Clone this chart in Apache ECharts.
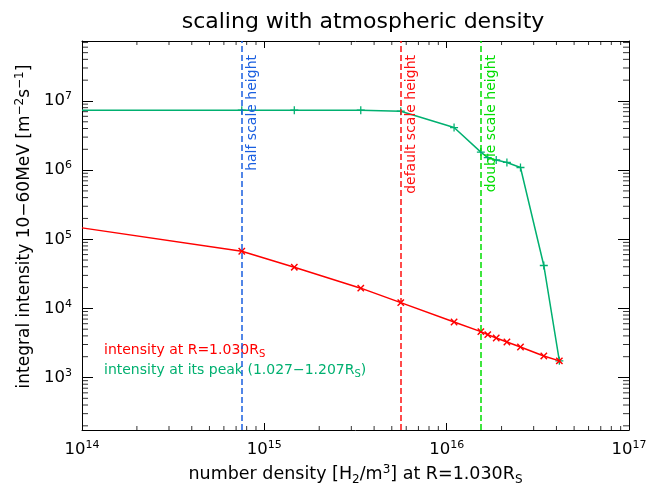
<!DOCTYPE html>
<html><head><meta charset="utf-8">
<script src="https://cdn.jsdelivr.net/npm/echarts@6/dist/echarts.min.js"></script>
<style>html,body{margin:0;padding:0;background:#fff}#c{width:650px;height:495px}</style>
</head><body><div id="c"></div>
<script>
// ---- data ----
const density = [1.0e14, 7.52e14, 1.46e15, 3.38e15, 5.60e15, 1.098e16, 1.54e16, 1.68e16, 1.87e16, 2.14e16, 2.54e16, 3.41e16, 4.15e16];
const intensityAtR = [1.46e5, 6.71e4, 3.94e4, 1.96e4, 1.21e4, 6.34e3, 4.61e3, 4.17e3, 3.73e3, 3.26e3, 2.76e3, 2.05e3, 1.74e3];
const intensityPeak = [7.37e6, 7.37e6, 7.37e6, 7.37e6, 7.12e6, 4.13e6, 1.82e6, 1.51e6, 1.40e6, 1.29e6, 1.09e6, 4.17e4, 1.74e3];
const hasMarker = [false, true, true, true, true, true, true, true, true, true, true, true, true];
const scaleNames = ['half scale height', 'default scale height', 'double scale height'];
const scaleDensity = [7.52e14, 5.60e15, 1.54e16];
const xRange = [1e14, 1e17];
const yRange = [174, 7.37e7];
const xTickExps = [14, 15, 16, 17];
const yTickExps = [3, 4, 5, 6, 7];

// ---- styling ----
const FONT = 'DejaVu Sans';
const RED = '#ff0000', GREEN = '#00b070';
const scaleColors = ['#1a5fe0', '#ff1010', '#00dd00'];

// IDL-style minor tick values (2..9 x 10^n) inside the axis ranges
const minorX = [], minorY = [];
for (let e = 13; e <= 17; e++) for (let m = 2; m <= 9; m++) {
  const v = m * Math.pow(10, e);
  if (v > xRange[0] && v < xRange[1]) minorX.push(v);
}
for (let e = 2; e <= 7; e++) for (let m = 2; m <= 9; m++) {
  const v = m * Math.pow(10, e);
  if (v > yRange[0] && v < yRange[1]) minorY.push(v);
}

const supRich = {
  b: { fontSize: 16.5, fontFamily: FONT, color: '#000', lineHeight: 20 },
  s: { fontSize: 11, fontFamily: FONT, color: '#000', verticalAlign: 'top', lineHeight: 12 }
};
function expLabel(v) {
  const l = Math.log10(v);
  const e = Math.round(l);
  if (Math.abs(l - e) > 1e-6) return '';
  const list = xTickExps.concat(yTickExps);
  if (list.indexOf(e) < 0) return '';
  return '{b|10}{s|' + e + '}';
}
const PLUS = 'path://M4.2,0H5.8V4.2H10V5.8H5.8V10H4.2V5.8H0V4.2H4.2Z';

function baseAxis(range, pos, showLabel, tickLen) {
  return {
    type: 'log', logBase: 10, min: range[0], max: range[1], position: pos,
    splitLine: { show: false },
    axisLine: { show: true, onZero: false, lineStyle: { color: '#000', width: 1 } },
    axisTick: { show: true, inside: true, length: tickLen, lineStyle: { color: '#000', width: 1 } },
    axisLabel: { show: showLabel, formatter: expLabel, rich: supRich, margin: 10, showMinLabel: false, showMaxLabel: false },
    minorTick: { show: false }
  };
}

const nameRich = {
  a: { fontSize: 17.5, fontFamily: FONT, color: '#000', lineHeight: 22 },
  u: { fontSize: 12, fontFamily: FONT, color: '#000', verticalAlign: 'top', lineHeight: 13 },
  d: { fontSize: 12, fontFamily: FONT, color: '#000', verticalAlign: 'bottom', lineHeight: 13 }
};
const xMain = baseAxis(xRange, 'bottom', true, 7);
xMain.axisLabel.showMinLabel = true; xMain.axisLabel.showMaxLabel = true;
xMain.name = '{a|number density [H}{d|2}{a|/m}{u|3}{a|] at R=1.030R}{d|S}';
xMain.nameLocation = 'middle';
xMain.nameGap = 32;
xMain.nameTextStyle = { rich: nameRich };
const xTop = baseAxis(xRange, 'top', false, 7);
const yMain = baseAxis(yRange, 'left', true, 11);
yMain.name = '{a|integral intensity 10−60MeV [m}{u|−2}{a|s}{u|−1}{a|]}';
yMain.nameLocation = 'middle';
yMain.nameGap = 46;
yMain.nameTextStyle = { padding: [0, 0, 0, 18], rich: {
  a: { fontSize: 17, fontFamily: FONT, color: '#000', lineHeight: 22 },
  u: { fontSize: 12, fontFamily: FONT, color: '#000', verticalAlign: 'top', lineHeight: 13 }
} };
const yRight = baseAxis(yRange, 'right', false, 11);

const legendTexts = [
  { type: 'text', left: 104, top: 343, silent: true, style: {
    text: '{a|intensity at R=1.030R}{d|S}', fill: RED,
    rich: { a: { fontSize: 14, fontFamily: FONT, color: RED, lineHeight: 18 }, d: { fontSize: 10, fontFamily: FONT, color: RED, verticalAlign: 'bottom', lineHeight: 12 } } } },
  { type: 'text', left: 104, top: 363, silent: true, style: {
    text: '{a|intensity at its peak (1.027−1.207R}{d|S}{a|)}', fill: GREEN,
    rich: { a: { fontSize: 14, fontFamily: FONT, color: GREEN, lineHeight: 18 }, d: { fontSize: 10, fontFamily: FONT, color: GREEN, verticalAlign: 'bottom', lineHeight: 12 } } } }
];

// minor ticks drawn as tiny rect symbols placed through the axes' own scales
function tickSeries(data, size, offset) {
  return {
    type: 'scatter', silent: true, clip: false, z: 20, animation: false,
    data: data, symbol: 'rect', symbolSize: size, symbolOffset: offset,
    itemStyle: { color: '#000' }, emphasis: { disabled: true }
  };
}

const chart = echarts.init(document.getElementById('c'), null, { renderer: 'canvas' });
chart.setOption({
  animation: false,
  backgroundColor: '#fff',
  title: { text: 'scaling with atmospheric density', left: 358, top: 6, textAlign: 'center',
    textStyle: { fontFamily: FONT, fontSize: 22, fontWeight: 'normal', color: '#000' } },
  grid: { left: 82, right: 21, top: 41, bottom: 65, containLabel: false },
  xAxis: [xMain, xTop],
  yAxis: [yMain, yRight],
  graphic: legendTexts,
  series: [
    tickSeries(minorX.map(v => [v, yRange[0]]), [1, 4], [0, -2]),
    tickSeries(minorX.map(v => [v, yRange[1]]), [1, 4], [0, 2]),
    tickSeries(minorY.map(v => [xRange[0], v]), [6, 1], [3, 0]),
    tickSeries(minorY.map(v => [xRange[1], v]), [6, 1], [-3, 0]),
    {
      type: 'line', name: 'intensity at its peak', clip: true,
      data: density.map((x, i) => ({ value: [x, intensityPeak[i]], symbol: hasMarker[i] ? PLUS : 'none' })),
      symbolSize: 8, showAllSymbol: true,
      lineStyle: { color: GREEN, width: 1.5 }, itemStyle: { color: GREEN },
      z: 3
    },
    {
      type: 'line', name: 'intensity at R', clip: true,
      data: density.map((x, i) => ({ value: [x, intensityAtR[i]], symbol: hasMarker[i] ? PLUS : 'none' })),
      symbolSize: 9, symbolRotate: 45, showAllSymbol: true,
      lineStyle: { color: RED, width: 1.5 }, itemStyle: { color: RED },
      z: 4,
      markLine: {
        silent: true, symbol: ['none', 'none'], animation: false,
        data: scaleDensity.map((x, i) => ({
          xAxis: x,
          lineStyle: { color: scaleColors[i], type: [6, 3], width: 1.5 },
          label: { show: true, formatter: scaleNames[i], position: 'insideEndBottom', distance: [14, 4],
            color: scaleColors[i], fontFamily: FONT, fontSize: 14 }
        }))
      }
    }
  ]
});
</script></body></html>
